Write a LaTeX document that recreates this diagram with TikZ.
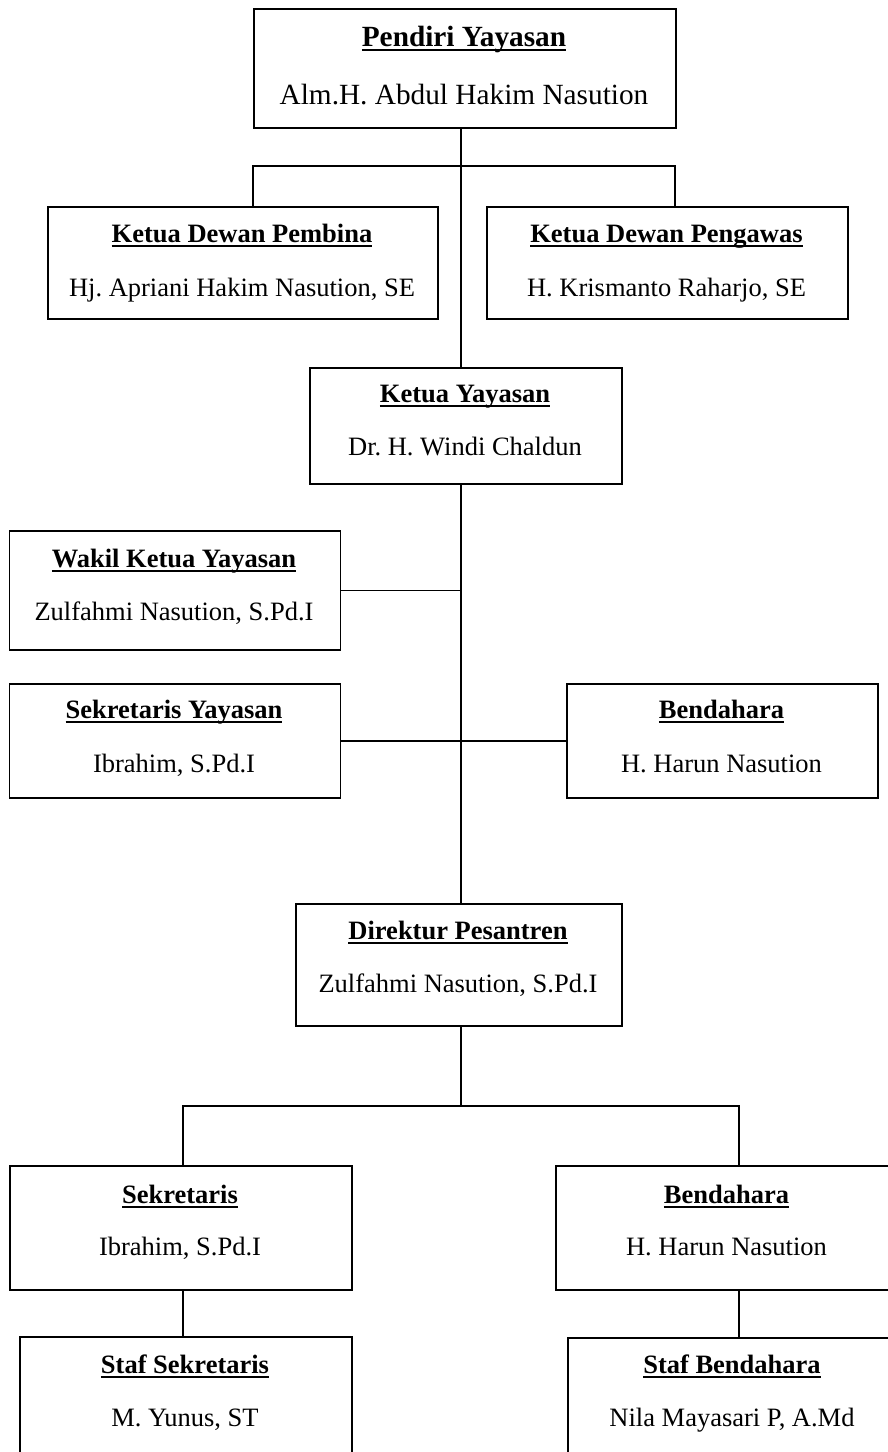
\documentclass[tikz,border=0pt]{standalone}
\usepackage{fontspec}
\setmainfont{Liberation Serif}
\frenchspacing
\newcommand\myul[1]{\leavevmode\setbox0\hbox{#1}\rlap{\rule[-4.6pt]{\wd0}{1.9pt}}\box0}
\begin{document}
\begin{tikzpicture}[x=1pt,y=-1pt,
  box/.style={draw, line width=1.7pt, inner sep=0pt, anchor=north west},
  ttl/.style={anchor=base, inner sep=0pt, font=\fontsize{26.5}{30}\selectfont\bfseries\frenchspacing},
  nam/.style={anchor=base, inner sep=0pt, font=\fontsize{26.5}{30}\selectfont\frenchspacing},
  bigttl/.style={ttl, font=\fontsize{29.3}{33}\selectfont\bfseries\frenchspacing},
  bignam/.style={nam, font=\fontsize{29.3}{33}\selectfont\frenchspacing},
  link/.style={line width=1.6pt}]
\useasboundingbox (0,0) rectangle (888,1452);
% boxes
\node[box, minimum width=422pt, minimum height=119pt] (pendiri) at (253,8) {};
\node[box, minimum width=390pt, minimum height=112pt] (pembina) at (47,206) {};
\node[box, minimum width=361pt, minimum height=112pt] (pengawas) at (486,206) {};
\node[box, minimum width=312pt, minimum height=116pt] (ketua) at (309,367) {};
\node[box, minimum width=331pt, minimum height=119pt] (wakil) at (8.5,530) {};
\node[box, minimum width=331pt, minimum height=114pt] (seky) at (8.5,683) {};
\node[box, minimum width=311pt, minimum height=114pt] (bendy) at (566,683) {};
\node[box, minimum width=326pt, minimum height=122pt] (direktur) at (295,903) {};
\node[box, minimum width=342pt, minimum height=124pt] (sekr) at (9,1165) {};
\node[box, minimum width=343pt, minimum height=124pt] (bend) at (555,1165) {};
\node[box, minimum width=332pt, minimum height=130pt] (stafs) at (19,1336) {};
\node[box, minimum width=331pt, minimum height=130pt] (stafb) at (567,1337) {};
% texts
\node[bigttl] (pendiriT) at (464,46) {\myul{Pendiri Yayasan}};
\node[bignam] (pendiriN) at (464,104) {Alm.H. Abdul Hakim Nasution};
\node[ttl] (pembinaT) at (242,242) {\myul{Ketua Dewan Pembina}};
\node[nam] (pembinaN) at (242,296) {Hj. Apriani Hakim Nasution, SE};
\node[ttl] (pengawasT) at (666.5,242) {\myul{Ketua Dewan Pengawas}};
\node[nam] (pengawasN) at (666.5,296) {H. Krismanto Raharjo, SE};
\node[ttl] (ketuaT) at (465,402) {\myul{Ketua Yayasan}};
\node[nam] (ketuaN) at (465,455) {Dr. H. Windi Chaldun};
\node[ttl] (wakilT) at (174,567) {\myul{Wakil Ketua Yayasan}};
\node[nam] (wakilN) at (174,620) {Zulfahmi Nasution, S.Pd.I};
\node[ttl] (sekyT) at (174,718) {\myul{Sekretaris Yayasan}};
\node[nam] (sekyN) at (174,772) {Ibrahim, S.Pd.I};
\node[ttl] (bendyT) at (721.5,718) {\myul{Bendahara}};
\node[nam] (bendyN) at (721.5,772) {H. Harun Nasution};
\node[ttl] (direkturT) at (458,939) {\myul{Direktur Pesantren}};
\node[nam] (direkturN) at (458,992) {Zulfahmi Nasution, S.Pd.I};
\node[ttl] (sekrT) at (180,1203) {\myul{Sekretaris}};
\node[nam] (sekrN) at (180,1255) {Ibrahim, S.Pd.I};
\node[ttl] (bendT) at (726.5,1203) {\myul{Bendahara}};
\node[nam] (bendN) at (726.5,1255) {H. Harun Nasution};
\node[ttl] (stafsT) at (185,1373) {\myul{Staf Sekretaris}};
\node[nam] (stafsN) at (185,1426) {M. Yunus, ST};
\node[ttl] (stafbT) at (732,1373) {\myul{Staf Bendahara}};
\node[nam] (stafbN) at (732,1426) {Nila Mayasari P, A.Md};
% junction coordinates
\coordinate (trunk) at (461,0);
\coordinate (br1) at (0,166);
\coordinate (br2) at (0,1106);
\coordinate (sx) at (183,0);
\coordinate (bx) at (739,0);
\coordinate (lx) at (253,0);
\coordinate (rx) at (675,0);
% connectors
\draw[link] (pendiri.south -| trunk) -- (ketua.north -| trunk);
\draw[link] (pembina.north -| lx) -- (lx |- br1) -- (rx |- br1) -- (pengawas.north -| rx);
\draw[link] (ketua.south -| trunk) -- (direktur.north -| trunk);
\draw[link] (wakil.east) -- (wakil.east -| trunk);
\draw[link] (seky.east) -- (bendy.west);
\draw[link] (direktur.south -| trunk) -- (trunk |- br2);
\draw[link] (sekr.north -| sx) -- (sx |- br2) -- (bx |- br2) -- (bend.north -| bx);
\draw[link] (sekr.south -| sx) -- (stafs.north -| sx);
\draw[link] (bend.south -| bx) -- (stafb.north -| bx);
\end{tikzpicture}
\end{document}
